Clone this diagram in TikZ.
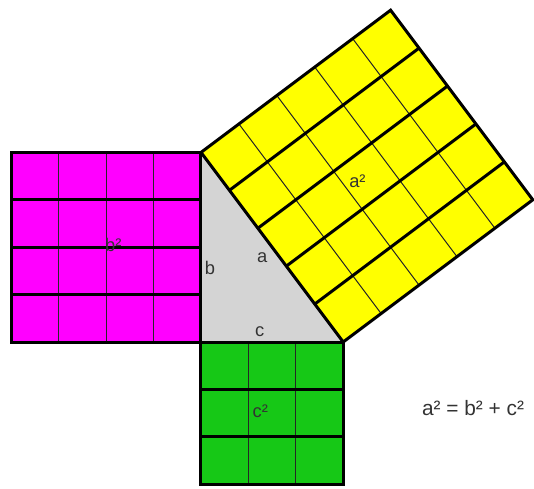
\documentclass[tikz,border=0pt]{standalone}
\usepackage{fontspec}
\setmainfont{Liberation Sans}
\usetikzlibrary{calc}

\definecolor{sqmagenta}{RGB}{255,0,255}
\definecolor{sqyellow}{RGB}{255,255,0}
\definecolor{sqgreen}{RGB}{22,200,22}
\definecolor{trigray}{RGB}{212,212,212}

\tikzset{
  thinrule/.style={line width=0.6pt, black!85},
  thickrule/.style={line width=1.8pt, black},
  edge/.style={line width=1.8pt, black, line join=miter},
  lbl/.style={font=\fontsize{11}{13}\selectfont, text=black!80, inner sep=0pt}
}

\begin{document}
\begin{tikzpicture}
  \useasboundingbox[fill=white] (-4.24,-3.08) rectangle (7.025,7.215);
  \coordinate (C) at (0,0);
  \coordinate (A) at (0,4);
  \coordinate (B) at (3,0);
  \coordinate (A2) at (4,7);
  \coordinate (B2) at (7,3);

  % triangle
  \fill[trigray] (C) -- (A) -- (B) -- cycle;

  % b^2
  \fill[sqmagenta] (-4,0) rectangle (A);
  \foreach \x in {-3,-2,-1}
    \draw[thinrule] (\x,0) -- (\x,4);
  \foreach \y in {1,2,3}
    \draw[thickrule] (-4,\y) -- (0,\y);
  \draw[edge] (-4,0) rectangle (A);

  % c^2
  \fill[sqgreen] (0,-3) rectangle (B);
  \foreach \x in {1,2}
    \draw[thinrule] (\x,-3) -- (\x,0);
  \foreach \y in {-1,-2}
    \draw[thickrule] (0,\y) -- (3,\y);
  \draw[edge] (0,-3) rectangle (B);

  % a^2
  \fill[sqyellow] (A) -- (A2) -- (B2) -- (B) -- cycle;
  \foreach \i in {1,...,4}
    \draw[thinrule] ($(A)!\i/5!(A2)$) -- ($(B)!\i/5!(B2)$);
  \foreach \i in {1,...,4}
    \draw[thickrule] ($(A)!\i/5!(B)$) -- ($(A2)!\i/5!(B2)$);
  \draw[edge] (A) -- (A2) -- (B2) -- (B) -- cycle;

  \node[lbl] (lb2) at (-1.85,2.05) {b²};
  \node[lbl] (la2) at (3.3,3.4) {a²};
  \node[lbl] (lc2) at (1.25,-1.45) {c²};
  \node[lbl] (la) at (1.29,1.77) {a};
  \node[lbl] (lb) at (0.19,1.56) {b};
  \node[lbl] (lc) at (1.24,0.21) {c};
  \node[lbl, font=\fontsize{12.5}{14}\selectfont] (eq) at (5.74,-1.39) {a² = b² + c²};
\end{tikzpicture}
\end{document}
